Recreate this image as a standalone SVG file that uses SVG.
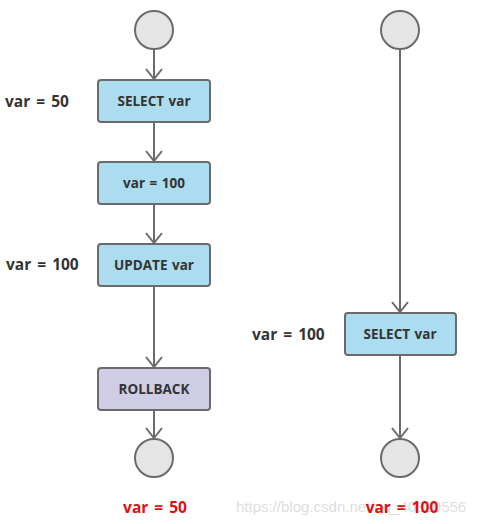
<svg xmlns="http://www.w3.org/2000/svg" width="488" height="524" viewBox="0 0 488 524">
<style>
.c{fill:#e5e5e5;stroke:#6b6b6b;stroke-width:2}
.b{fill:#abdcef;stroke:#6b6b6b;stroke-width:2}
.r{fill:#cfcce5;stroke:#6b6b6b;stroke-width:2}
.t{font-family:"Open Sans","Liberation Sans",sans-serif;font-weight:bold;font-size:13.5px;fill:#333;text-anchor:middle;word-spacing:1px}
.l{font-family:"Open Sans","Liberation Sans",sans-serif;font-weight:bold;font-size:15.5px;fill:#333;word-spacing:2px}
.red{font-family:"Open Sans","Liberation Sans",sans-serif;font-weight:bold;font-size:15.5px;fill:#e01010;text-anchor:middle;word-spacing:2px}
.w{font-family:"Liberation Sans",sans-serif;font-size:15px;fill:#dedede}
.e{stroke:#6b6b6b;stroke-width:2;fill:none;marker-end:url(#a)}
</style>
<defs>
<marker id="a" markerUnits="userSpaceOnUse" viewBox="0 0 12 20" markerWidth="12" markerHeight="20" refX="11" refY="10" orient="auto">
<path d="M1,2 L11,10 L1,18" fill="none" stroke="#6b6b6b" stroke-width="2"/>
</marker>
</defs>
<text class="w" x="236" y="512">https://blog.csdn.net/qq_40820556</text>
<g id="connectors">
<line class="e" x1="154" y1="49" x2="154" y2="79"/>
<line class="e" x1="154" y1="122" x2="154" y2="161"/>
<line class="e" x1="154" y1="204" x2="154" y2="243"/>
<line class="e" x1="154" y1="286" x2="154" y2="367"/>
<line class="e" x1="154" y1="410" x2="154" y2="438"/>
<line class="e" x1="400" y1="49" x2="400" y2="312"/>
<line class="e" x1="400" y1="355" x2="400" y2="438"/>
</g>
<g id="start1"><circle class="c" cx="154" cy="30" r="19"/></g>
<g id="select1"><rect class="b" x="98" y="80" width="112" height="42" rx="3"/><text class="t" x="154" y="106">SELECT var</text></g>
<g id="assign1"><rect class="b" x="98" y="162" width="112" height="42" rx="3"/><text class="t" x="154" y="188">var = 100</text></g>
<g id="update1"><rect class="b" x="98" y="244" width="112" height="42" rx="3"/><text class="t" x="154" y="270">UPDATE var</text></g>
<g id="rollback1"><rect class="r" x="98" y="368" width="112" height="42" rx="3"/><text class="t" x="154" y="394">ROLLBACK</text></g>
<g id="end1"><circle class="c" cx="154" cy="458" r="19"/></g>
<g id="start2"><circle class="c" cx="400" cy="30" r="19"/></g>
<g id="select2"><rect class="b" x="345" y="313" width="111" height="42" rx="3"/><text class="t" x="400" y="339">SELECT var</text></g>
<g id="end2"><circle class="c" cx="400" cy="458" r="19"/></g>
<g id="labels">
<text class="l" x="5" y="107">var = 50</text>
<text class="l" x="6" y="270">var = 100</text>
<text class="l" x="252" y="340">var = 100</text>
<text class="red" x="155" y="513">var = 50</text>
<text class="red" x="402" y="513">var = 100</text>
</g>
</svg>
